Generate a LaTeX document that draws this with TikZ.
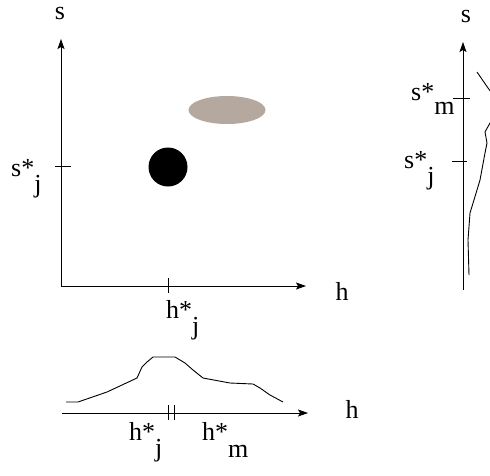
\documentclass[tikz,border=0pt]{standalone}
\usepackage{fontspec}
\setmainfont{Liberation Serif}
\usetikzlibrary{arrows.meta,shapes.geometric}
\definecolor{blobgray}{RGB}{181,168,158}
\newcommand{\lowsub}[1]{\raisebox{-16pt}{#1}}
\begin{document}
\begin{tikzpicture}[x=1pt,y=-1pt,
  axis/.style={line width=0.9pt,-{Stealth[length=10pt,width=7pt,inset=2pt]}},
  tick/.style={line width=0.9pt},
  curve/.style={line width=0.9pt,line join=round},
  lbl/.style={font=\fontsize{26}{28}\selectfont,inner sep=0pt,anchor=base west}]
\useasboundingbox (0,0) rectangle (490,475);
\fill[white] (0,0) rectangle (490,475);
% main plot
\coordinate (O) at (61,286);
\coordinate (Ytop) at (61,39);
\coordinate (Xend) at (306,286);
\draw[axis] (O) -- (Ytop);
\draw[axis] (O) -- (Xend);
\coordinate (sjA) at (55,166); \coordinate (sjB) at (71,166);
\draw[tick] (sjA) -- (sjB);
\coordinate (hjA) at (168,278); \coordinate (hjB) at (168,293);
\draw[tick] (hjA) -- (hjB);
\node[lbl,anchor=center] (s1) at (60,13) {s};
\node[lbl,anchor=center] (h1) at (342,291) {h};
\node[lbl] (sj1) at (11,176) {s*\lowsub{j}};
\node[lbl] (hj1) at (166,318) {h*\lowsub{j}};
\node[fill=black,circle,minimum size=39pt,inner sep=0pt] (dot) at (168,167) {};
\node[fill=blobgray,ellipse,minimum width=77pt,minimum height=28pt,inner sep=0pt] (ell) at (227,110) {};
% bottom plot
\coordinate (B0) at (62,413);
\coordinate (Bend) at (308,413);
\draw[axis] (B0) -- (Bend);
\coordinate (t1a) at (168,405); \coordinate (t1b) at (168,420);
\coordinate (t2a) at (174,405); \coordinate (t2b) at (174,420);
\draw[tick] (t1a) -- (t1b);
\draw[tick] (t2a) -- (t2b);
\node[lbl,anchor=center] (h2) at (352,409) {h};
\node[lbl] (hj2) at (129,440) {h*\lowsub{j}};
\node[lbl] (hm2) at (202,440) {h*\raisebox{-17pt}{m}};
\draw[curve] (66,402) -- (78,402) -- (107,392) -- (137,378) -- (142,367) -- (147,362) -- (153,357) -- (175,357) -- (185,363) -- (193,370) -- (203,378) -- (230,383) -- (253,384) -- (260,388) -- (270,395) -- (283,402);
% right plot
\coordinate (R0) at (463,290);
\coordinate (Rtop) at (463,42);
\draw[axis] (R0) -- (Rtop);
\coordinate (smA) at (453,98); \coordinate (smB) at (470,98);
\draw[tick] (smA) -- (smB);
\coordinate (rjA) at (452,161); \coordinate (rjB) at (467,161);
\draw[tick] (rjA) -- (rjB);
\node[lbl,anchor=center] (s3) at (466,16) {s};
\node[lbl] (sm3) at (411,100) {s*\raisebox{-14pt}{m}};
\node[lbl] (sj3) at (404,168) {s*\lowsub{j}};
\begin{scope}
\clip (0,0) rectangle (490,475);
\draw[curve] (477,72) -- (488,88) -- (494,96);
\draw[curve] (494,118) -- (490,123) -- (485,132) -- (487,143) -- (485,153) -- (480,180) -- (477,190) -- (470,213) -- (468,240) -- (469,275);
\end{scope}
\end{tikzpicture}
\end{document}
